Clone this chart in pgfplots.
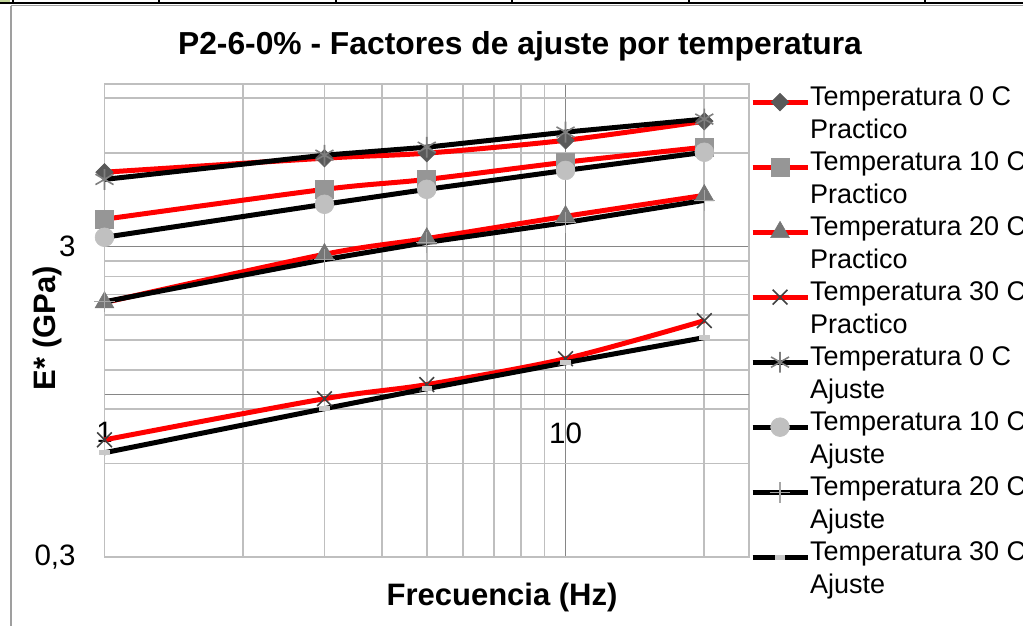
\documentclass[border=0pt]{standalone}
\usepackage{fontspec}
\setmainfont{Liberation Sans}
\usepackage{pgfplots}
\usepackage{pgfplotstable}
\pgfplotsset{compat=1.18}

\definecolor{xlred}{HTML}{FF0000}
\definecolor{mkdiamond}{HTML}{595959}
\definecolor{mksquare}{HTML}{969696}
\definecolor{mktri}{HTML}{767676}
\definecolor{mkx}{HTML}{404040}
\definecolor{mkstar}{HTML}{7F7F7F}
\definecolor{mkcircle}{HTML}{C0C0C0}
\definecolor{mkplus}{HTML}{A6A6A6}
\definecolor{mkdash}{HTML}{C8C8C8}
\definecolor{gridminor}{HTML}{BFBFBF}
\definecolor{gridmajor}{HTML}{868686}
\definecolor{cellgreen}{HTML}{C4D79B}

% frequency (Hz), practical and fitted E* (GPa) for each temperature
\pgfplotstableread{
f   p0    p10   p20   p30    a0    a10   a20   a30
1   5.20  3.67  1.98  0.715  4.93  3.21  1.99  0.650
3   5.77  4.58  2.83  0.970  5.90  4.10  2.72  0.901
5   5.99  4.93  3.18  1.077  6.26  4.58  3.09  1.045
10  6.59  5.60  3.75  1.305  7.00  5.27  3.58  1.267
20  7.59  6.26  4.38  1.730  7.71  6.03  4.22  1.526
}\datatable

\begin{document}
\begin{tikzpicture}
\useasboundingbox (0pt,0pt) rectangle (511.5pt,-313pt);
\clip (0pt,0pt) rectangle (511.5pt,-313pt);
% spreadsheet remnants above the chart
\fill[cellgreen] (0pt,0pt) rectangle (5pt,-1.4pt);
\draw[black, line width=1.1pt] (0pt,-1.6pt) -- (511.5pt,-1.6pt);
\foreach \xx in {6.5,79.5,168,256,344.5,462.5}
  \draw[black, line width=1.1pt] (\xx pt,0pt) -- (\xx pt,-1.6pt);
% chart area border
\draw[gray!75, line width=0.8pt] (5.5pt,-2.8pt) -- (511.5pt,-2.8pt);
\draw[gray!75, line width=0.8pt] (5.5pt,-2.8pt) -- (5.5pt,-313pt);

\begin{axis}[
  at={(52.25pt,-278.5pt)}, anchor=south west,
  scale only axis, width=322.25pt, height=236.5pt,
  xmode=log, ymode=log,
  xmin=1, xmax=25, ymin=0.3, ymax=10,
  xtick={1,10}, xticklabels={1,10},
  minor xtick={2,3,4,5,6,7,8,9,20},
  ytick={0.3,3}, yticklabels={{0,3},3},
  minor ytick={0.6,0.9,1.2,1.5,1.8,2.1,2.4,2.7,6,9},
  extra y ticks={1}, extra y tick labels={},
  extra y tick style={grid=major, major grid style={gridmajor, line width=0.9pt}},
  grid=both,
  major grid style={gridmajor, line width=0.9pt},
  minor grid style={gridminor, line width=0.9pt},
  major tick length=0pt, minor tick length=0pt,
  axis line style={gridminor, line width=0.9pt},
  tick label style={font=\fontsize{14.75}{17}\selectfont},
  xticklabel style={anchor=north, inner sep=0pt, yshift=67.5pt},
  yticklabel style={anchor=east, inner sep=0pt, xshift=-14.25pt},
  title={P2-6-0\% - Factores de ajuste por temperatura},
  title style={at={(0.6447,1.036)}, anchor=base, inner sep=0pt, font=\bfseries\fontsize{15.9}{19}\selectfont},
  xlabel={Frecuencia (Hz)},
  xlabel style={at={(0.6168,-0.1015)}, anchor=base, inner sep=0pt, font=\bfseries\fontsize{15.5}{18}\selectfont},
  ylabel={E* (GPa)},
  ylabel style={at={(-0.0768,0.4841)}, anchor=base, inner sep=0pt, font=\bfseries\fontsize{15.5}{18}\selectfont},
  clip=false,
  legend style={at={(1.0016,0.996)}, anchor=north west, draw=none, fill=none,
    inner sep=0pt, outer sep=0pt, row sep=0pt, column sep=0pt,
    font=\fontsize{13.5}{16}\selectfont,
    nodes={inner sep=0pt, text height=10pt, text depth=6.25pt}},
  legend cell align=left,
  legend image code/.code={\draw[mark repeat=2,mark phase=2,#1] plot coordinates {(0pt,0pt) (13.75pt,0pt) (27.5pt,0pt)};},
]
% ---- Practico (red) ----
\addplot[xlred, line width=2.5pt, smooth, mark=square*, mark size=3.1pt,
  mark options={solid, rotate=45, line width=0.3pt, draw=mkdiamond, fill=mkdiamond}, forget plot]
  table[x=f, y=p0]{\datatable};
\addplot[xlred, line width=2.5pt, smooth, mark=square*, mark size=4.5pt,
  mark options={solid, line width=0.3pt, draw=mksquare, fill=mksquare}, forget plot]
  table[x=f, y=p10]{\datatable};
\addplot[xlred, line width=2.5pt, smooth, mark=triangle*, mark size=5.4pt,
  mark options={solid, line width=0.3pt, draw=mktri, fill=mktri}, forget plot]
  table[x=f, y=p20]{\datatable};
\addplot[xlred, line width=2.5pt, smooth, mark=x, mark size=5.2pt,
  mark options={solid, line width=0.8pt, draw=mkx}, forget plot]
  table[x=f, y=p30]{\datatable};
% ---- Ajuste (black) ----
\addplot[black, line width=2.5pt, mark=asterisk, mark size=5.2pt,
  mark options={solid, line width=0.8pt, draw=mkstar}, forget plot]
  table[x=f, y=a0]{\datatable};
\addplot[black, line width=2.5pt, mark=*, mark size=4.7pt,
  mark options={solid, line width=0.3pt, draw=mkcircle, fill=mkcircle}, forget plot]
  table[x=f, y=a10]{\datatable};
\addplot[black, line width=2.5pt, mark=+, mark size=5.2pt,
  mark options={solid, line width=0.6pt, draw=mkplus}, forget plot]
  table[x=f, y=a20]{\datatable};
\addplot[black, line width=2.5pt, mark=-, mark size=2.6pt,
  mark options={solid, line width=2.5pt, draw=mkdash}, forget plot]
  table[x=f, y=a30]{\datatable};

% ---- legend ----
\addlegendimage{xlred, line width=2.5pt, mark=square*, mark size=3.1pt,
  mark options={solid, rotate=45, line width=0.3pt, draw=mkdiamond, fill=mkdiamond}}
\addlegendentry{Temperatura 0 C}
\addlegendimage{empty legend}\addlegendentry{Practico}
\addlegendimage{xlred, line width=2.5pt, mark=square*, mark size=4.5pt,
  mark options={solid, line width=0.3pt, draw=mksquare, fill=mksquare}}
\addlegendentry{Temperatura 10 C}
\addlegendimage{empty legend}\addlegendentry{Practico}
\addlegendimage{xlred, line width=2.5pt, mark=triangle*, mark size=5.4pt,
  mark options={solid, line width=0.3pt, draw=mktri, fill=mktri}}
\addlegendentry{Temperatura 20 C}
\addlegendimage{empty legend}\addlegendentry{Practico}
\addlegendimage{xlred, line width=2.5pt, mark=x, mark size=5.2pt,
  mark options={solid, line width=0.8pt, draw=mkx}}
\addlegendentry{Temperatura 30 C}
\addlegendimage{empty legend}\addlegendentry{Practico}
\addlegendimage{black, line width=2.5pt, mark=asterisk, mark size=5.2pt,
  mark options={solid, line width=0.8pt, draw=mkstar}}
\addlegendentry{Temperatura 0 C}
\addlegendimage{empty legend}\addlegendentry{Ajuste}
\addlegendimage{black, line width=2.5pt, mark=*, mark size=4.7pt,
  mark options={solid, line width=0.3pt, draw=mkcircle, fill=mkcircle}}
\addlegendentry{Temperatura 10 C}
\addlegendimage{empty legend}\addlegendentry{Ajuste}
\addlegendimage{black, line width=2.5pt, mark=+, mark size=5.2pt,
  mark options={solid, line width=0.6pt, draw=mkplus}}
\addlegendentry{Temperatura 20 C}
\addlegendimage{empty legend}\addlegendentry{Ajuste}
\addlegendimage{black, line width=2.5pt, mark=-, mark size=2.6pt,
  mark options={solid, line width=2.5pt, draw=mkdash}}
\addlegendentry{Temperatura 30 C}
\addlegendimage{empty legend}\addlegendentry{Ajuste}
\end{axis}
\end{tikzpicture}
\end{document}
